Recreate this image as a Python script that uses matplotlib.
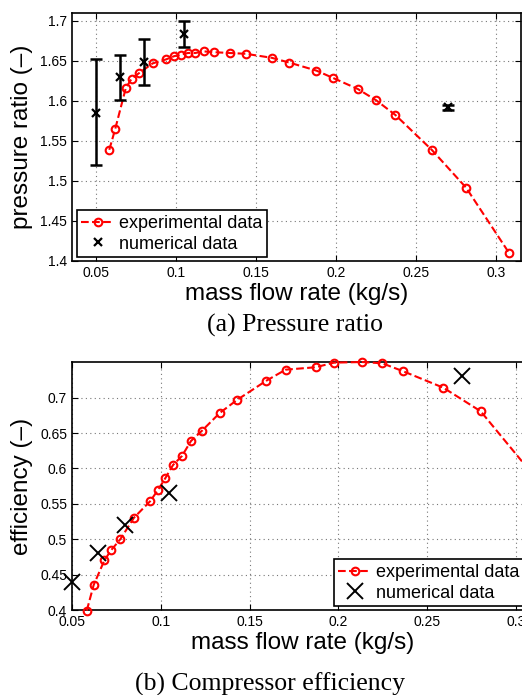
import numpy as np
import matplotlib
matplotlib.use('Agg')
import matplotlib.pyplot as plt

plt.rcParams['font.family'] = ['Liberation Sans', 'DejaVu Sans']

# (a) pressure ratio
exp_mf_a = [0.0583, 0.062, 0.0686, 0.0723, 0.077, 0.0854, 0.0938, 0.0988, 0.1033,
            0.1075, 0.112, 0.1173, 0.1236, 0.1335, 0.1435, 0.1598, 0.1708, 0.1877,
            0.1979, 0.2136, 0.225, 0.2371, 0.2598, 0.2813, 0.3083]
exp_pr = [1.539, 1.565, 1.616, 1.628, 1.635, 1.647, 1.652, 1.656, 1.658,
          1.660, 1.660, 1.662, 1.661, 1.660, 1.659, 1.654, 1.648, 1.638,
          1.629, 1.615, 1.601, 1.5825, 1.539, 1.4916, 1.4096]
num_mf_a = [0.05, 0.065, 0.08, 0.105, 0.27]
num_pr = [1.5854, 1.6296, 1.649, 1.684, 1.592]
num_pr_lo = [1.5204, 1.6017, 1.620, 1.6675, 1.589]
num_pr_hi = [1.652, 1.658, 1.6775, 1.7004, 1.595]

# (b) efficiency
exp_mf_b = [0.0583, 0.0622, 0.0682, 0.072, 0.0772, 0.0849, 0.0941, 0.0984, 0.1025,
            0.1069, 0.1119, 0.117, 0.1232, 0.1332, 0.1429, 0.1593, 0.1703, 0.1872,
            0.1975, 0.2133, 0.2247, 0.2365, 0.2591, 0.2801, 0.3083]
exp_eff = [0.399, 0.4353, 0.470, 0.4844, 0.500, 0.5304, 0.554, 0.5696, 0.5861,
           0.6049, 0.6176, 0.6388, 0.6534, 0.6784, 0.6968, 0.7238, 0.7396, 0.743,
           0.7495, 0.7504, 0.7486, 0.7373, 0.7141, 0.6808, 0.595]
num_mf_b = [0.05, 0.0645, 0.08, 0.1048, 0.2698]
num_eff = [0.44, 0.48, 0.52, 0.565, 0.73]

W, H = 522, 695
fig = plt.figure(figsize=(W/100, H/100), dpi=100)

def px_rect(l, t, r, b):
    return [l/W, 1-b/H, (r-l)/W, (b-t)/H]

def style(ax):
    ax.tick_params(direction='in', top=True, right=True, labelsize=10, length=4)
    ax.grid(True, linestyle=(0, (1, 3)), color='#777777', linewidth=0.8)
    for s in ax.spines.values():
        s.set_linewidth(1.2)

# ---- top plot
ax1 = fig.add_axes(px_rect(72, 13.3, 521, 261))
ax1.plot(exp_mf_a, exp_pr, '--o', color='red', mfc='none', ms=5.5, mew=1.5, lw=1.5,
         label='experimental data', zorder=3, clip_on=False)
yerr = [np.array(num_pr) - np.array(num_pr_lo), np.array(num_pr_hi) - np.array(num_pr)]
ax1.errorbar(num_mf_a, num_pr, yerr=yerr, fmt='none', ecolor='black', elinewidth=1.8,
             capsize=4, capthick=1.8, zorder=4)
ax1.plot(num_mf_a, num_pr, 'kx', ms=6, mew=1.6, label='numerical data', zorder=5)
ax1.set_xlim(0.035, 0.3156)
ax1.set_ylim(1.4, 1.7096)
ax1.set_xticks([0.05, 0.1, 0.15, 0.2, 0.25, 0.3])
ax1.set_xticklabels(['0.05', '0.1', '0.15', '0.2', '0.25', '0.3'])
ax1.set_yticks([1.4, 1.45, 1.5, 1.55, 1.6, 1.65, 1.7])
ax1.set_yticklabels(['1.4', '1.45', '1.5', '1.55', '1.6', '1.65', '1.7'])
style(ax1)
ax1.set_xlabel('mass flow rate (kg/s)', fontsize=17.5, labelpad=2)
ax1.set_ylabel('pressure ratio (\u2013)', fontsize=17.5, labelpad=5)
leg1 = ax1.legend(loc='lower left', bbox_to_anchor=(0.011, 0.016), borderaxespad=0,
                  fontsize=13, fancybox=False, edgecolor='black', framealpha=1,
                  handlelength=1.8, handletextpad=0.3, borderpad=0.25, labelspacing=0.2)
leg1.get_frame().set_linewidth(1.2)

# ---- bottom plot
ax2 = fig.add_axes(px_rect(72, 362.3, 72 + 0.26*1776, 610))
ax2.plot(exp_mf_b, exp_eff, '--o', color='red', mfc='none', ms=5.5, mew=1.5, lw=1.5,
         label='experimental data', zorder=3, clip_on=False)
ax2.plot(num_mf_b, num_eff, 'kx', ms=11, mew=1.4, label='numerical data', zorder=5,
         clip_on=False)
ax2.set_xlim(0.05, 0.31)
ax2.set_ylim(0.4, 0.75)
ax2.set_xticks([0.05, 0.1, 0.15, 0.2, 0.25, 0.3])
ax2.set_xticklabels(['0.05', '0.1', '0.15', '0.2', '0.25', '0.3'])
ax2.set_yticks([0.4, 0.45, 0.5, 0.55, 0.6, 0.65, 0.7])
ax2.set_yticklabels(['0.4', '0.45', '0.5', '0.55', '0.6', '0.65', '0.7'])
style(ax2)
ax2.set_xlabel('mass flow rate (kg/s)', fontsize=17.5, labelpad=2)
ax2.set_ylabel('efficiency (\u2013)', fontsize=17.5, labelpad=5)
leg2 = ax2.legend(loc='lower left', bbox_to_anchor=(0.567, 0.016), borderaxespad=0,
                  fontsize=13, fancybox=False, edgecolor='black', framealpha=1,
                  handlelength=1.8, handletextpad=0.3, borderpad=0.25, labelspacing=0.2)
leg2.get_frame().set_linewidth(1.2)
leg2.set_zorder(10)

fig.text(295/W, 1-325/H, '(a) Pressure ratio', ha='center', va='center',
         fontsize=18.5, family='Liberation Serif')
fig.text(270/W, 1-684/H, '(b) Compressor efficiency', ha='center', va='center',
         fontsize=18.5, family='Liberation Serif')

fig.savefig('out.png', dpi=100)
